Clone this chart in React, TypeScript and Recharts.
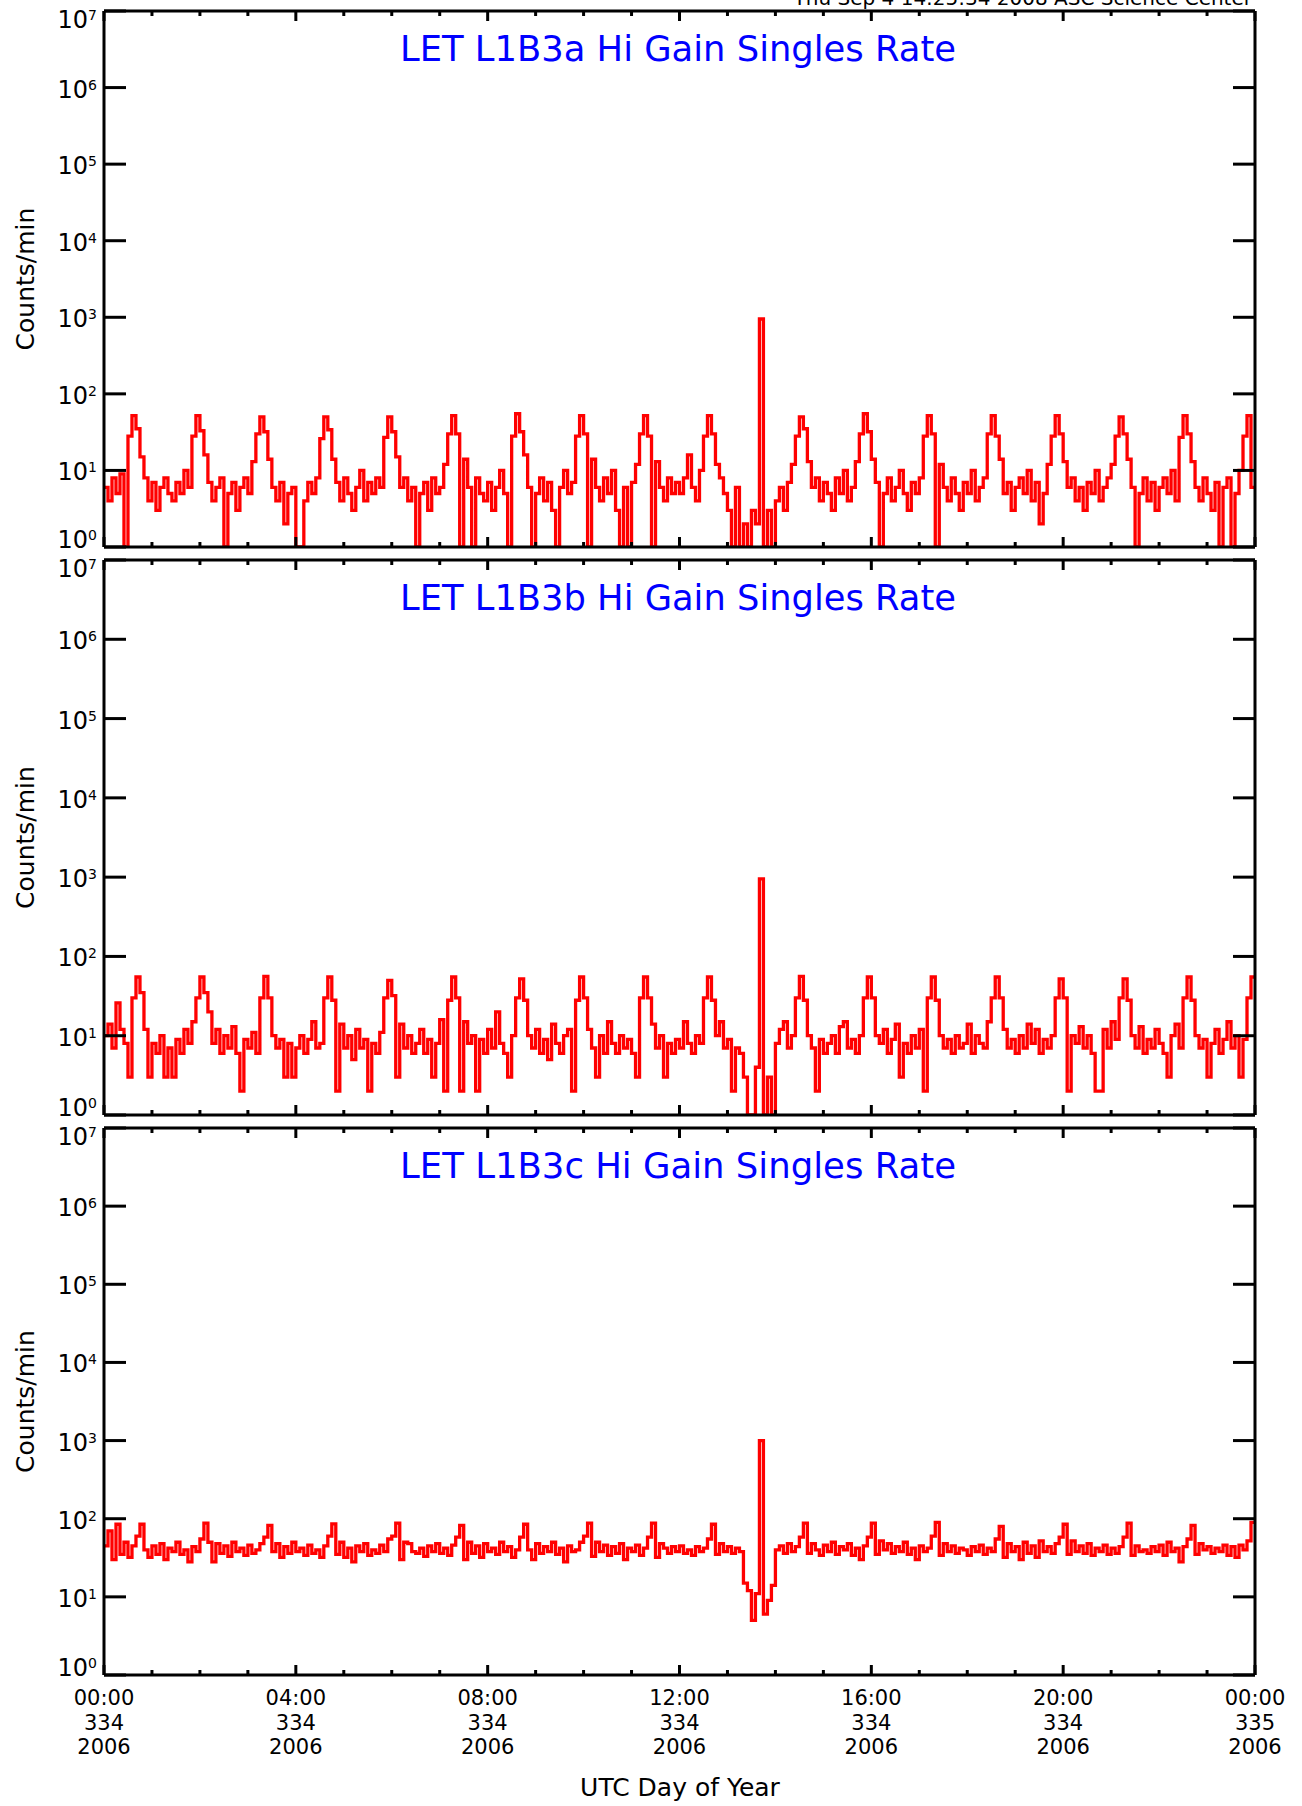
import React from 'react'
import { LineChart, Line, XAxis, YAxis } from 'recharts'

const FONT = '"DejaVu Sans", "Liberation Sans", sans-serif'

const STAMP = 'Thu Sep  4 14:25:34 2008 ASC Science Center'
const TITLES = [
  'LET L1B3a Hi Gain Singles Rate',
  'LET L1B3b Hi Gain Singles Rate',
  'LET L1B3c Hi Gain Singles Rate',
]
const Y_LABEL = 'Counts/min'
const X_LABEL = 'UTC Day of Year'

// log axis decades, 10^0 .. 10^7
const DECADES = [1, 10, 100, 1000, 10000, 100000, 1000000, 10000000]
// minutes since 00:00 UTC, one tick per hour
const HOUR_TICKS = [
  0, 60, 120, 180, 240, 300, 360, 420, 480, 540, 600, 660, 720,
  780, 840, 900, 960, 1020, 1080, 1140, 1200, 1260, 1320, 1380, 1440,
]
const TIME_LABELS = ['00:00', '04:00', '08:00', '12:00', '16:00', '20:00', '00:00']
const DAY_LABELS = ['334', '334', '334', '334', '334', '334', '335']
const YEAR_LABELS = ['2006', '2006', '2006', '2006', '2006', '2006', '2006']

// counts/min, 5 minute bins, one row per hour
const RATE_A = [
  6, 4, 8, 5, 9, 1, 28, 52, 35, 15, 8, 4,
  7, 3, 6, 8, 5, 4, 7, 5, 10, 6, 28, 52,
  33, 16, 7, 4, 6, 8, 1, 5, 7, 3, 6, 8,
  5, 13, 30, 50, 32, 14, 6, 4, 7, 2, 5, 6,
  1, 1, 4, 7, 5, 8, 26, 50, 34, 14, 7, 4,
  8, 5, 3, 6, 10, 4, 7, 5, 8, 6, 27, 50,
  32, 15, 6, 8, 4, 6, 1, 5, 7, 3, 8, 5,
  6, 12, 30, 52, 30, 1, 14, 6, 1, 8, 5, 4,
  7, 3, 6, 10, 5, 1, 28, 55, 32, 16, 6, 1,
  5, 8, 4, 7, 3, 1, 6, 10, 5, 7, 28, 52,
  30, 1, 14, 6, 4, 8, 5, 10, 3, 1, 6, 1,
  7, 12, 30, 52, 28, 1, 13, 6, 4, 8, 5, 7,
  5, 8, 16, 6, 4, 10, 28, 52, 30, 12, 8, 5,
  3, 1, 6, 1, 2, 1, 3, 2, 950, 1, 3, 1,
  4, 6, 3, 7, 12, 28, 50, 35, 13, 6, 8, 4,
  7, 5, 3, 8, 5, 10, 4, 6, 13, 30, 55, 32,
  14, 7, 1, 5, 8, 4, 6, 10, 5, 3, 7, 5,
  8, 28, 52, 30, 1, 12, 6, 4, 8, 5, 3, 7,
  5, 10, 4, 6, 8, 30, 52, 28, 14, 5, 7, 3,
  6, 8, 5, 10, 4, 7, 2, 5, 12, 28, 52, 30,
  13, 6, 8, 4, 6, 3, 7, 5, 10, 4, 6, 8,
  12, 28, 50, 30, 14, 6, 1, 5, 8, 4, 7, 3,
  6, 8, 5, 10, 4, 27, 52, 30, 13, 6, 4, 8,
  5, 3, 7, 1, 6, 8, 1, 5, 10, 28, 52, 6,
]

const RATE_B = [
  10, 14, 7, 26, 12, 8, 3, 30, 55, 35, 12, 3,
  8, 6, 10, 3, 7, 3, 9, 6, 12, 8, 15, 30,
  55, 35, 20, 8, 12, 6, 10, 7, 13, 6, 2, 9,
  7, 11, 6, 30, 56, 30, 10, 7, 9, 3, 8, 3,
  7, 10, 6, 9, 15, 7, 8, 30, 55, 28, 2, 14,
  7, 10, 5, 12, 7, 9, 2, 8, 6, 11, 30, 50,
  32, 3, 14, 7, 10, 6, 8, 12, 6, 9, 3, 8,
  16, 2, 28, 55, 30, 2, 15, 8, 10, 2, 9, 6,
  12, 7, 20, 8, 6, 3, 10, 30, 52, 28, 10, 7,
  12, 6, 9, 5, 14, 8, 6, 10, 12, 2, 28, 55,
  30, 12, 7, 3, 10, 6, 15, 8, 6, 10, 7, 9,
  6, 3, 30, 55, 30, 14, 7, 10, 3, 8, 6, 9,
  7, 15, 8, 6, 10, 8, 30, 55, 28, 10, 15, 7,
  9, 2, 7, 6, 3, 1, 1, 4, 950, 1, 3, 1,
  8, 12, 15, 7, 10, 30, 56, 28, 10, 7, 2, 9,
  6, 8, 10, 6, 13, 15, 7, 9, 6, 10, 30, 55,
  30, 10, 8, 12, 6, 9, 14, 3, 8, 6, 10, 7,
  12, 2, 30, 55, 28, 10, 7, 9, 6, 10, 7, 8,
  14, 6, 10, 8, 7, 15, 30, 55, 30, 12, 7, 9,
  6, 10, 7, 14, 8, 12, 6, 9, 7, 10, 30, 52,
  30, 2, 10, 8, 13, 7, 10, 6, 2, 2, 12, 7,
  15, 9, 30, 52, 28, 10, 7, 13, 6, 9, 7, 12,
  8, 6, 3, 10, 14, 7, 30, 55, 28, 10, 7, 9,
  3, 8, 12, 6, 9, 15, 7, 10, 3, 9, 30, 55,
]

const RATE_C = [
  45, 70, 30, 85, 35, 50, 32, 45, 60, 85, 40, 32,
  45, 35, 48, 30, 42, 38, 50, 35, 40, 28, 44, 38,
  55, 88, 50, 28, 48, 36, 45, 33, 50, 38, 42, 34,
  46, 36, 40, 48, 58, 82, 38, 48, 32, 44, 36, 50,
  38, 42, 34, 46, 36, 40, 32, 45, 60, 86, 35, 50,
  32, 42, 28, 45, 38, 48, 34, 40, 36, 46, 38, 55,
  60, 88, 30, 50, 48, 38, 36, 42, 33, 45, 38, 48,
  36, 42, 34, 46, 58, 82, 30, 50, 36, 45, 32, 48,
  38, 42, 35, 50, 38, 44, 32, 40, 58, 85, 40, 30,
  48, 36, 44, 38, 50, 35, 42, 28, 45, 38, 40, 50,
  60, 88, 33, 50, 38, 46, 34, 44, 36, 48, 30, 42,
  38, 46, 34, 42, 58, 88, 32, 48, 42, 36, 44, 38,
  45, 36, 40, 34, 44, 38, 42, 55, 85, 35, 48, 38,
  44, 36, 42, 38, 15, 12, 5, 11, 1000, 6, 9, 14,
  40, 45, 36, 48, 38, 44, 58, 88, 36, 48, 40, 34,
  46, 38, 50, 35, 44, 40, 48, 34, 42, 30, 45, 58,
  88, 35, 52, 40, 48, 36, 44, 38, 50, 35, 42, 30,
  45, 38, 42, 60, 90, 34, 48, 38, 45, 36, 42, 40,
  34, 44, 38, 46, 35, 42, 38, 55, 80, 32, 48, 38,
  44, 30, 50, 36, 45, 32, 52, 38, 44, 36, 48, 58,
  85, 35, 52, 38, 45, 36, 48, 34, 42, 38, 46, 35,
  42, 36, 44, 58, 88, 34, 45, 38, 40, 36, 44, 38,
  46, 34, 50, 38, 42, 28, 44, 55, 82, 35, 48, 40,
  44, 36, 42, 38, 46, 34, 44, 32, 46, 40, 52, 90,
]

const RATES = [RATE_A, RATE_B, RATE_C]

// page layout (px)
const PLOT_RIGHT = 1255
const PANELS = [
  { top: 11, height: 536 },
  { top: 560, height: 555 },
  { top: 1128, height: 547 },
]

const AXIS = { stroke: '#000', strokeWidth: 3 }

function LeftTick(props: any) {
  const { x, y, payload } = props
  const exp = Math.round(Math.log10(payload.value))
  const off = exp === 0 ? 1 : exp === 7 ? 17 : 10
  return (
    <g>
      <line x1={x} x2={x + 22} y1={y} y2={y} stroke="#000" strokeWidth={3} />
      <text x={x - 7} y={y + off} textAnchor="end" fontSize={24} fontFamily={FONT} fill="#000">
        10<tspan dy={-8} fontSize={14}>{exp}</tspan>
      </text>
    </g>
  )
}

function RightTick(props: any) {
  const { x, y } = props
  return <line x1={x - 22} x2={x} y1={y} y2={y} stroke="#000" strokeWidth={3} />
}

function TopTick(props: any) {
  const { x, y, payload } = props
  const len = payload.value % 240 === 0 ? 10 : 5
  return <line x1={x} x2={x} y1={y} y2={y + len} stroke="#000" strokeWidth={3} />
}

function BottomTick(props: any) {
  const { x, y, payload, labels } = props
  const major = payload.value % 240 === 0
  const j = payload.value / 240
  return (
    <g>
      <line x1={x} x2={x} y1={y} y2={y - (major ? 10 : 5)} stroke="#000" strokeWidth={3} />
      {labels && major && (
        <g fontSize={21} fontFamily={FONT} fill="#000" textAnchor="middle">
          <text x={x} y={y + 30}>{TIME_LABELS[j]}</text>
          <text x={x} y={y + 54.5}>{DAY_LABELS[j]}</text>
          <text x={x} y={y + 79}>{YEAR_LABELS[j]}</text>
        </g>
      )}
    </g>
  )
}

function Panel({ rates, top, height, labels }: { rates: number[]; top: number; height: number; labels: boolean }) {
  const data = rates.map((v, i) => ({ t: i * 5, v }))
  data.push({ t: 1440, v: rates[rates.length - 1] })
  const mt = 14
  const mb = labels ? 110 : 14
  return (
    <div style={{ position: 'absolute', left: 0, top: top - mt }}>
      <LineChart
        width={1302}
        height={height + mt + mb}
        data={data}
        margin={{ top: mt - 1, right: 1302 - PLOT_RIGHT - 1, bottom: mb - 1, left: 0 }}
      >
        <XAxis
          xAxisId="b" type="number" dataKey="t" domain={[0, 1440]} ticks={HOUR_TICKS} interval={0}
          orientation="bottom" height={1} axisLine={AXIS} tickLine={false} tickSize={0} tickMargin={0}
          tick={(p: any) => <BottomTick {...p} labels={labels} />}
        />
        <XAxis
          xAxisId="t" type="number" dataKey="t" domain={[0, 1440]} ticks={HOUR_TICKS} interval={0}
          orientation="top" height={1} axisLine={AXIS} tickLine={false} tickSize={0} tickMargin={0}
          tick={TopTick}
        />
        <YAxis
          yAxisId="l" type="number" scale="log" domain={[1, 10000000]} ticks={DECADES} interval={0}
          allowDataOverflow width={104} axisLine={AXIS} tickLine={false} tickSize={0} tickMargin={0}
          tick={LeftTick}
        />
        <YAxis
          yAxisId="r" orientation="right" type="number" scale="log" domain={[1, 10000000]} ticks={DECADES}
          interval={0} allowDataOverflow width={1} axisLine={AXIS} tickLine={false} tickSize={0} tickMargin={0}
          tick={RightTick}
        />
        <Line
          xAxisId="b" yAxisId="l" dataKey="v" type="stepAfter" stroke="#ff0000" strokeWidth={3.3}
          strokeLinejoin="miter" dot={false} isAnimationActive={false}
        />
      </LineChart>
    </div>
  )
}

export default function App() {
  return (
    <div style={{ position: 'absolute', left: 0, top: 0, width: 1302, height: 1806, background: '#fff' }}>
      {PANELS.map((p, i) => (
        <Panel key={i} rates={RATES[i]} top={p.top} height={p.height} labels={i === PANELS.length - 1} />
      ))}
      <svg
        width={1302}
        height={1806}
        style={{ position: 'absolute', left: 0, top: 0, pointerEvents: 'none' }}
        fontFamily={FONT}
      >
        <text x={1252} y={5} textAnchor="end" fontSize={20} fill="#000">{STAMP}</text>
        {PANELS.map((p, i) => (
          <g key={i}>
            <text
              x={678} y={p.top + 50} textAnchor="middle" fontSize={35} fill="#0000ff"
              textLength={556} lengthAdjust="spacingAndGlyphs"
            >
              {TITLES[i]}
            </text>
            <text
              x={34} y={p.top + p.height / 2} textAnchor="middle" fontSize={25} fill="#000"
              transform={`rotate(-90 34 ${p.top + p.height / 2})`}
            >
              {Y_LABEL}
            </text>
          </g>
        ))}
        <text x={680} y={1796} textAnchor="middle" fontSize={25} fill="#000">{X_LABEL}</text>
      </svg>
    </div>
  )
}
